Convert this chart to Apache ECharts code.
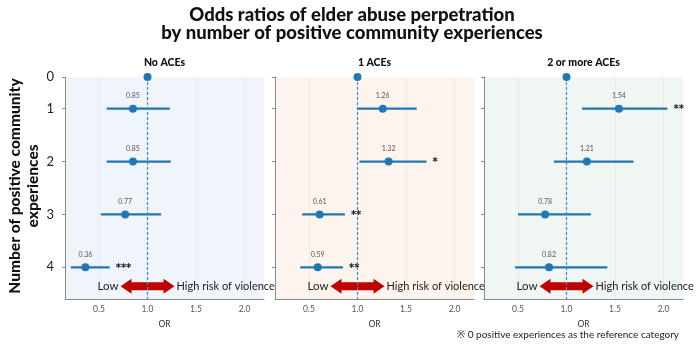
<!DOCTYPE html>
<html><head><meta charset="utf-8">
<script src="https://cdn.jsdelivr.net/npm/echarts@6/dist/echarts.min.js"></script>
<style>html,body{margin:0;padding:0;background:#fff}#c{width:700px;height:349px}</style>
</head><body><div id="c"></div>
<script>
const categories = ['0', '1', '2', '3', '4'];
const rowPos = [0.4, 1, 2, 3, 4];
const panelTitles = ['No ACEs', '1 ACEs', '2 or more ACEs'];
const xTicks = [0.5, 1.0, 1.5, 2.0];

const orNoACE = [1, 0.85, 0.85, 0.77, 0.36];
const loNoACE = [null, 0.58, 0.58, 0.52, 0.21];
const hiNoACE = [null, 1.23, 1.24, 1.14, 0.61];
const sigNoACE = ['', '', '', '', '***'];

const or1ACE = [1, 1.26, 1.32, 0.61, 0.59];
const lo1ACE = [null, 1.00, 1.02, 0.43, 0.41];
const hi1ACE = [null, 1.61, 1.71, 0.87, 0.85];
const sig1ACE = ['', '', '*', '**', '**'];

const or2ACE = [1, 1.54, 1.21, 0.78, 0.82];
const lo2ACE = [null, 1.16, 0.87, 0.50, 0.47];
const hi2ACE = [null, 2.04, 1.69, 1.25, 1.42];
const sig2ACE = ['', '**', '', '', ''];

const refValue = 1;
const arrowRow = 4.36;

const panels = [
  {or: orNoACE, lo: loNoACE, hi: hiNoACE, sig: sigNoACE, bg: '#eff5fb'},
  {or: or1ACE, lo: lo1ACE, hi: hi1ACE, sig: sig1ACE, bg: '#fdf4ed'},
  {or: or2ACE, lo: lo2ACE, hi: hi2ACE, sig: sig2ACE, bg: '#f0f6f2'}
];
const gridLefts = [65, 275, 484];
const gridWidth = 199;
const gridTop = 77, gridHeight = 222;
const dotColor = '#1f77b4';
const font = 'Lato, "Noto Sans", sans-serif';

const grids = [], xAxes = [], yAxes = [], series = [], graphics = [];

panels.forEach((p, i) => {
  grids.push({left: gridLefts[i], top: gridTop, width: gridWidth, height: gridHeight,
    show: true, backgroundColor: p.bg, borderWidth: 0});
  xAxes.push({gridIndex: i, type: 'value', min: 0.15, max: 2.2,
    axisLine: {show: true, onZero: false, lineStyle: {color: '#8a8a8a', width: 1}},
    axisTick: {show: false, customValues: xTicks},
    axisLabel: {customValues: xTicks, formatter: v => v.toFixed(1), color: '#555', fontSize: 8.5, margin: 6, fontFamily: font},
    splitLine: {show: true, lineStyle: {color: 'rgba(0,0,0,0.05)', width: 1}},
    name: 'OR', nameLocation: 'middle', nameGap: 21,
    nameTextStyle: {fontSize: 8.5, color: '#333', fontFamily: font}
  });
  yAxes.push({gridIndex: i, type: 'value', inverse: true, min: 0.4, max: 4.6,
    axisLine: {show: true, onZero: false, lineStyle: {color: '#8a8a8a', width: 1}},
    axisTick: {show: true, customValues: rowPos, length: 3, lineStyle: {color: '#8a8a8a'}},
    axisLabel: {show: i === 0, customValues: rowPos, formatter: v => categories[rowPos.indexOf(v)],
      fontSize: 13, color: '#222', margin: 11, fontFamily: font},
    splitLine: {show: false}
  });

  // arrow annotation
  series.push({type: 'custom', xAxisIndex: i, yAxisIndex: i, z: 2, silent: true,
    data: [[refValue, arrowRow]],
    renderItem: (params, api) => {
      const c = api.coord([api.value(0), api.value(1)]);
      const L = 27, hl = 11, hh = 7.5, bh = 4;
      const x = c[0], y = c[1];
      return {type: 'group', children: [
        {type: 'polygon', shape: {points: [
          [x - L, y], [x - L + hl, y - hh], [x - L + hl, y - bh], [x + L - hl, y - bh],
          [x + L - hl, y - hh], [x + L, y], [x + L - hl, y + hh], [x + L - hl, y + bh],
          [x - L + hl, y + bh], [x - L + hl, y + hh]]},
          style: {fill: '#c00000'}},
        {type: 'text', x: x - L - 2, y: y, style: {text: 'Low', align: 'right', verticalAlign: 'middle',
          fontSize: 11.5, fill: '#222', fontFamily: font}},
        {type: 'text', x: x + L + 2, y: y, style: {text: 'High risk of violence', align: 'left', verticalAlign: 'middle',
          fontSize: 11, fill: '#222', fontFamily: font}}
      ]};
    }
  });

  // error bars + significance
  const ebData = [];
  p.lo.forEach((lo, k) => { if (lo !== null) ebData.push([lo, p.hi[k], rowPos[k], p.sig[k]]); });
  series.push({type: 'custom', xAxisIndex: i, yAxisIndex: i, z: 3, silent: true,
    encode: {x: [0, 1], y: 2},
    data: ebData,
    renderItem: (params, api) => {
      const a = api.coord([api.value(0), api.value(2)]);
      const b = api.coord([api.value(1), api.value(2)]);
      const sig = ebData[params.dataIndex][3];
      const ch = [{type: 'line', shape: {x1: a[0], y1: a[1], x2: b[0], y2: b[1]},
        style: {stroke: dotColor, lineWidth: 2.2}}];
      if (sig) ch.push({type: 'text', x: b[0] + 6, y: b[1] + 1,
        style: {text: sig, align: 'left', verticalAlign: 'middle', fontSize: 10, fontWeight: 'bold', fill: '#111', fontFamily: 'DejaVu Sans'}});
      return {type: 'group', children: ch};
    },
    markLine: {silent: true, symbol: 'none', label: {show: false},
      lineStyle: {type: [3, 2], color: '#3d8bd0', width: 1.2},
      data: [{xAxis: refValue}]}
  });

  // points
  series.push({type: 'scatter', xAxisIndex: i, yAxisIndex: i, z: 5, silent: true,
    symbolSize: 8, itemStyle: {color: dotColor, opacity: 1},
    data: p.or.map((v, k) => ({value: [v, rowPos[k]],
      label: {show: k > 0}})),
    label: {show: true, position: 'top', distance: 5, formatter: d => d.value[0].toFixed(2),
      fontSize: 7, color: '#555', fontFamily: font}
  });

  graphics.push({type: 'text', x: gridLefts[i] + gridWidth / 2, y: 63,
    style: {text: panelTitles[i], align: 'center', verticalAlign: 'middle', fontSize: 10.5,
      fontWeight: 900, fill: '#111', fontFamily: font}});
});

graphics.push({type: 'text', x: 352, y: 24,
  style: {text: 'Odds ratios of elder abuse perpetration\nby number of positive community experiences',
    align: 'center', verticalAlign: 'middle', fontSize: 18.5, lineHeight: 18.5, fontWeight: 900,
    fill: '#111', fontFamily: font}});
graphics.push({type: 'text', x: 24, y: 186, rotation: Math.PI / 2,
  style: {text: 'Number of positive community\nexperiences', align: 'center', verticalAlign: 'middle',
    fontSize: 15.5, lineHeight: 18, fontWeight: 900, fill: '#111', fontFamily: font}});
graphics.push({type: 'text', x: 679, y: 335,
  style: {text: '※ 0 positive experiences as the reference category', align: 'right', verticalAlign: 'middle',
    fontSize: 10, fill: '#222', fontFamily: font}});

const chart = echarts.init(document.getElementById('c'), null, {renderer: 'canvas'});
chart.setOption({animation: false, grid: grids, xAxis: xAxes, yAxis: yAxes, series: series, graphic: graphics});
</script></body></html>
